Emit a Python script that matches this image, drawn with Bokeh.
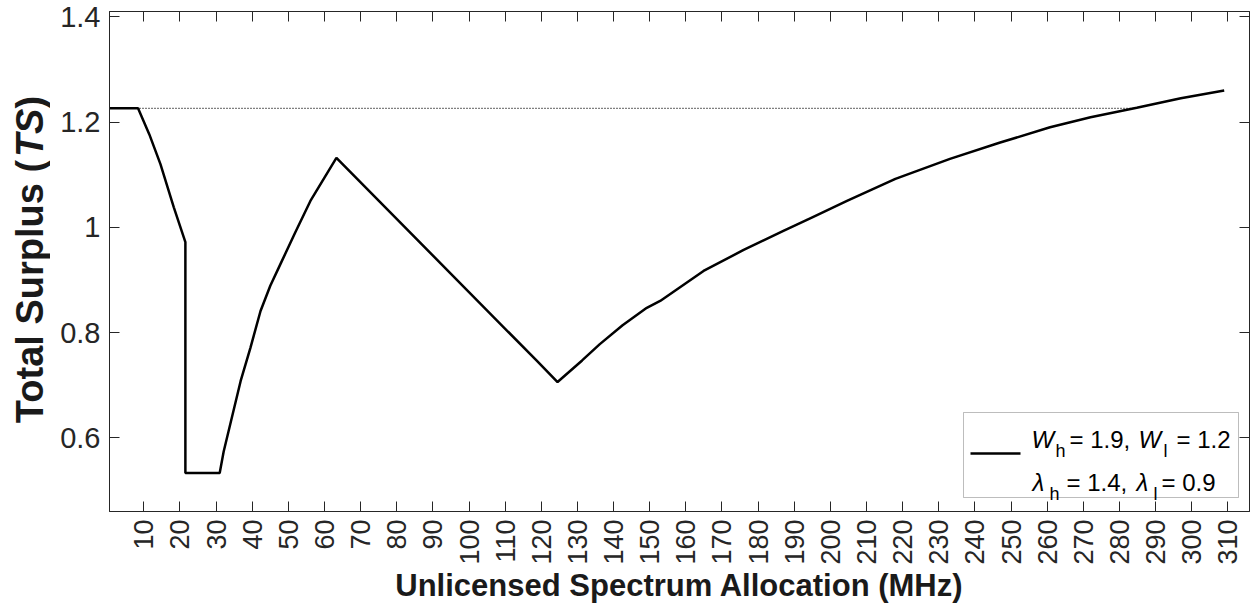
import math
from bokeh.plotting import figure
from bokeh.layouts import row
from bokeh.models import LinearAxis, FixedTicker, Label, BoxAnnotation, Range1d
from bokeh.embed import file_html
from bokeh.resources import INLINE

# ---------------- data ----------------
x_mhz = [0.5, 8.4, 11.5, 14.6, 18.3, 21.5, 21.5, 31.0, 32.1, 36.8, 39.5, 42.3,
         45.0, 47.8, 51.9, 56.1, 63.3, 118.8, 124.5, 131.3, 136.2, 142.5,
         149.2, 152.9, 164.9, 176.0, 187.0, 195.0, 204.6, 218.0, 233.1,
         247.0, 260.8, 272.0, 284.8, 297.0, 309.0]
ts_values = [1.226, 1.226, 1.177, 1.120, 1.038, 0.972, 0.533, 0.533, 0.574,
             0.708, 0.771, 0.841, 0.889, 0.930, 0.990, 1.050, 1.132, 0.746,
             0.706, 0.747, 0.778, 0.814, 0.847, 0.860, 0.917, 0.957, 0.993,
             1.019, 1.050, 1.092, 1.130, 1.161, 1.190, 1.209, 1.227, 1.245,
             1.260]
ref_x = [0.5, 284.8]
ref_ts = [1.226, 1.226]

x_ticks = [10, 20, 30, 40, 50, 60, 70, 80, 90, 100, 110, 120, 130, 140, 150,
           160, 170, 180, 190, 200, 210, 220, 230, 240, 250, 260, 270, 280,
           290, 300, 310]
y_ticks = [0.6, 0.8, 1.0, 1.2, 1.4]
y_tick_labels = ["0.6", "0.8", "1", "1.2", "1.4"]

x_label = "Unlicensed Spectrum Allocation (MHz)"
y_label_parts = ["Total Surplus (", "TS", ")"]

# ---------------- styling ----------------
FONT = "Liberation Sans"
AX = "#262626"
W, H = 1252, 605
SIDE_W = 50               # width of the strip holding the y title
FL_CANVAS, FB = 109, 512  # frame left / bottom in page px
FL = FL_CANVAS - SIDE_W   # frame left inside main figure

p = figure(width=W - SIDE_W, height=H, x_range=(0.5, 316), y_range=(0.46, 1.41),
           output_backend="svg", toolbar_location=None,
           min_border_left=FL, min_border_right=3, min_border_top=11,
           min_border_bottom=H - FB)
p.xgrid.visible = False
p.ygrid.visible = False
p.outline_line_color = AX
p.outline_line_width = 1
p.background_fill_color = "white"
p.border_fill_color = "white"

p.line(x_mhz, ts_values, line_color="black", line_width=2.5)
p.line(ref_x, ref_ts, line_color="black", line_width=1.3, line_dash="1 2")


def style_axis(ax, show_labels):
    ax.major_tick_in = 10
    ax.major_tick_out = 0
    ax.minor_tick_line_color = None
    ax.axis_line_color = AX
    ax.major_tick_line_color = AX
    ax.major_label_text_font = FONT
    ax.major_label_text_color = AX
    if not show_labels:
        ax.major_label_text_font_size = "0px"
        ax.major_label_standoff = 0


xa = p.xaxis[0]
xa.ticker = FixedTicker(ticks=x_ticks)
style_axis(xa, True)
xa.major_label_text_font_size = "27px"
xa.major_label_orientation = math.pi / 2
xa.major_label_standoff = 8
xa.axis_label = x_label
xa.axis_label_text_font = FONT
xa.axis_label_text_font_style = "bold"
xa.axis_label_text_font_size = "31px"
xa.axis_label_text_color = "#1a1a1a"
xa.axis_label_standoff = 0

ya = p.yaxis[0]
ya.ticker = FixedTicker(ticks=y_ticks)
style_axis(ya, True)
ya.major_label_text_font_size = "29px"
ya.major_label_standoff = 9
ya.major_label_overrides = {t: s for t, s in zip(y_ticks, y_tick_labels)}

top = LinearAxis(ticker=FixedTicker(ticks=x_ticks),
                 major_label_overrides={t: "" for t in x_ticks})
style_axis(top, False)
p.add_layout(top, "above")
right = LinearAxis(ticker=FixedTicker(ticks=y_ticks),
                   major_label_overrides={t: "" for t in y_ticks})
style_axis(right, False)
p.add_layout(right, "right")


def sx(cx):
    return cx - FL_CANVAS


def sy(cy):
    return FB - cy


# legend
p.add_layout(BoxAnnotation(left=sx(963), right=sx(1238), bottom=sy(498), top=sy(413),
                           left_units="screen", right_units="screen",
                           bottom_units="screen", top_units="screen",
                           fill_color="white", fill_alpha=1.0,
                           line_color=AX, line_width=1, level="annotation"))
p.add_layout(BoxAnnotation(left=sx(970), right=sx(1020), bottom=sy(455.3), top=sy(452.7),
                           left_units="screen", right_units="screen",
                           bottom_units="screen", top_units="screen",
                           fill_color="black", fill_alpha=1.0, line_color=None,
                           level="annotation"))

legend_parts = [
    # text, page x, page baseline y, size, style
    ("W", 1031, 440, 24, "italic"),
    ("h", 1055, 451, 18, "normal"),
    ("= 1.9,", 1069, 440, 24, "normal"),
    ("W", 1138, 440, 24, "italic"),
    ("l", 1163, 451, 18, "normal"),
    ("= 1.2", 1176, 440, 24, "normal"),
    ("λ", 1032, 483, 24, "italic"),
    ("h", 1049, 494, 18, "normal"),
    ("= 1.4,", 1066, 483, 24, "normal"),
    ("λ", 1136, 483, 24, "italic"),
    ("l", 1153, 494, 18, "normal"),
    ("= 0.9", 1161, 483, 24, "normal"),
]
for txt, cx, cy, fs, st in legend_parts:
    p.add_layout(Label(x=sx(cx), y=sy(cy), x_units="screen", y_units="screen",
                       text=txt, text_align="left", text_baseline="alphabetic",
                       text_font=FONT, text_font_style=st, text_font_size=f"{fs}px",
                       text_color="black"))

# strip on the left holding the y-axis title (bold, with italic TS)
side = figure(width=SIDE_W, height=H, x_range=Range1d(0, SIDE_W), y_range=Range1d(0, 1),
              output_backend="svg", toolbar_location=None, min_border=0)
side.axis.visible = False
side.xgrid.visible = False
side.ygrid.visible = False
side.outline_line_color = None
side.background_fill_color = "white"
side.border_fill_color = "white"

fs_y = 38
w1 = 7.001 * fs_y
w2 = 1.278 * fs_y
start = 260 + (w1 + w2 + 0.333 * fs_y) / 2   # page y of the bottom end
offs = [0, w1, w1 + w2]
styles = ["bold", "bold italic", "bold"]
for part, off, st in zip(y_label_parts, offs, styles):
    # frames of the row are aligned, so screen y is measured from page y = FB
    side.add_layout(Label(x=29, y=sy(start - off), y_units="screen",
                          text=part, angle=math.pi / 2,
                          text_align="left", text_baseline="middle",
                          text_font=FONT, text_font_style=st,
                          text_font_size=f"{fs_y}px", text_color="#1a1a1a"))

layout = row(side, p, spacing=0)
open("out.html", "w").write(file_html(layout, INLINE))
